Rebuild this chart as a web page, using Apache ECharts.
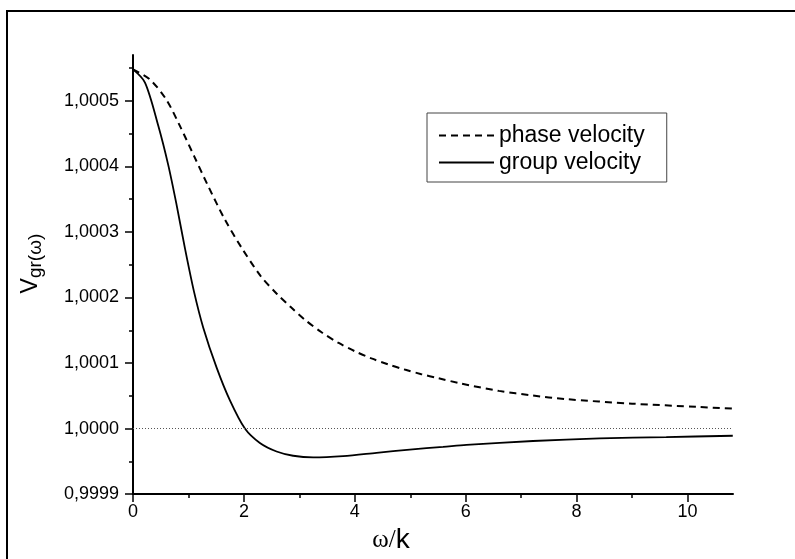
<!DOCTYPE html>
<html>
<head>
<meta charset="utf-8">
<script src="https://cdn.jsdelivr.net/npm/echarts@6/dist/echarts.min.js"></script>
<style>
  html, body { margin: 0; padding: 0; background: #fff; }
  #chart { width: 795px; height: 559px; }
</style>
</head>
<body>
<div id="chart"></div>
<script>
// values
const phaseX = [0, 0.3, 0.6, 0.85, 1.1, 1.35, 1.65, 1.95, 2.3, 2.6, 2.85, 3.1, 3.4, 3.7, 4.0, 4.3, 4.6, 4.9, 5.2, 5.5, 5.9, 6.6, 7.2, 7.8, 9.0, 10.2, 10.8];
const phaseY = [1.000548, 1.000533, 1.000502, 1.000461, 1.000416, 1.000371, 1.000320, 1.000277, 1.000233, 1.000205, 1.000185, 1.000166, 1.000147, 1.000131, 1.000118, 1.000107, 1.000098, 1.000090, 1.000083, 1.000077, 1.000069, 1.0000575, 1.0000505, 1.000045, 1.000038, 1.000033, 1.0000305];

const groupX = [0, 0.216, 0.456, 0.636, 0.787, 0.937, 1.1, 1.267, 1.508, 1.748, 2.018, 2.288, 2.589, 2.888, 3.249, 3.789, 4.391, 4.991, 5.591, 6.013, 7.213, 8.414, 9.616, 10.816];
const groupY = [1.000548, 1.000528, 1.000462, 1.000402, 1.000341, 1.000275, 1.000209, 1.000154, 1.000093, 1.000043, 1.000000, 0.999978, 0.999965, 0.9999585, 0.999956, 0.999958, 0.999963, 0.999968, 0.999972, 0.999975, 0.999981, 0.999985, 0.999987, 0.999989];

const xMajorTicks = [0, 2, 4, 6, 8, 10];
const xMinorTicks = [1, 3, 5, 7, 9];
const yMajorTicks = [0.9999, 1.0000, 1.0001, 1.0002, 1.0003, 1.0004, 1.0005];
const yMinorTicks = [0.99995, 1.00005, 1.00015, 1.00025, 1.00035, 1.00045, 1.00055];
const refLine = 1.0;

const X_MIN = 0, X_MAX = 10.82;
const Y_MIN = 0.9999, Y_MAX = 1.00057;

const zip = (xs, ys) => xs.map((x, i) => [x, ys[i]]);
const font = 'Liberation Sans, Arial, sans-serif';

const chart = echarts.init(document.getElementById('chart'), null, { renderer: 'canvas' });

chart.setOption({
  backgroundColor: '#fff',
  animation: false,
  textStyle: { fontFamily: font, color: '#000' },
  graphic: [{
    type: 'rect',
    shape: { x: 7, y: 11, width: 800, height: 560 },
    style: { fill: 'none', stroke: '#000', lineWidth: 2 },
    silent: true
  }],
  grid: { left: 133, right: 62, top: 55, bottom: 61 },
  legend: {
    left: 427,
    top: 113,
    orient: 'vertical',
    padding: [11, 22, 8, 11],
    itemGap: 4,
    itemWidth: 55,
    itemHeight: 14,
    borderColor: '#444',
    borderWidth: 1,
    itemStyle: { opacity: 0 },
    textStyle: { fontSize: 23, color: '#000', fontFamily: font },
    data: ['phase velocity', 'group velocity']
  },
  xAxis: [
    {
      type: 'value',
      min: X_MIN,
      max: X_MAX,
      name: '{a|ω/}{b|k}',
      nameLocation: 'middle',
      nameGap: 30,
      nameTextStyle: {
        padding: [0, 84, 0, 0],
        rich: {
          a: { fontSize: 25, fontFamily: 'Liberation Serif, serif', color: '#000' },
          b: { fontSize: 28, fontFamily: font, color: '#000' }
        }
      },
      axisLine: { onZero: false, lineStyle: { color: '#000', width: 2 } },
      axisTick: { customValues: xMajorTicks, length: 8, lineStyle: { color: '#000', width: 1.5 } },
      axisLabel: { customValues: xMajorTicks, margin: 9, fontSize: 18, color: '#000', fontFamily: font },
      splitLine: { show: false }
    },
    {
      type: 'value',
      min: X_MIN,
      max: X_MAX,
      position: 'bottom',
      axisLine: { show: false },
      axisTick: { customValues: xMinorTicks, length: 4, lineStyle: { color: '#000', width: 1.5 } },
      axisLabel: { show: false },
      splitLine: { show: false }
    }
  ],
  yAxis: [
    {
      type: 'value',
      min: Y_MIN,
      max: Y_MAX,
      name: '{v|V}{s|gr(ω)}',
      nameLocation: 'middle',
      nameGap: 88,
      nameTextStyle: {
        padding: [0, 0, 0, 22],
        rich: {
          v: { fontSize: 23, fontFamily: font, color: '#000' },
          s: { fontSize: 19, fontFamily: font, color: '#000', padding: [9, 0, 0, 0] }
        }
      },
      axisLine: { onZero: false, lineStyle: { color: '#000', width: 2 } },
      axisTick: { customValues: yMajorTicks, length: 8, lineStyle: { color: '#000', width: 1.5 } },
      axisLabel: {
        customValues: yMajorTicks,
        margin: 14,
        fontSize: 18,
        color: '#000',
        fontFamily: font,
        formatter: (v) => v.toFixed(4).replace('.', ',')
      },
      splitLine: { show: false }
    },
    {
      type: 'value',
      min: Y_MIN,
      max: Y_MAX,
      position: 'left',
      axisLine: { show: false },
      axisTick: { customValues: yMinorTicks, length: 4, lineStyle: { color: '#000', width: 1.5 } },
      axisLabel: { show: false },
      splitLine: { show: false }
    }
  ],
  series: [
    {
      name: 'phase velocity',
      type: 'line',
      symbol: 'none',
      smooth: 0.3,
      data: zip(phaseX, phaseY),
      lineStyle: { color: '#000', width: 2, type: [7, 5] },
      itemStyle: { color: '#000' }
    },
    {
      name: 'group velocity',
      type: 'line',
      symbol: 'none',
      smooth: 0.3,
      data: zip(groupX, groupY),
      lineStyle: { color: '#000', width: 1.8 },
      itemStyle: { color: '#000' },
      markLine: {
        silent: true,
        symbol: 'none',
        label: { show: false },
        lineStyle: { color: '#555', width: 1, type: [1, 2] },
        data: [{ yAxis: refLine }]
      }
    }
  ]
});
</script>
</body>
</html>
